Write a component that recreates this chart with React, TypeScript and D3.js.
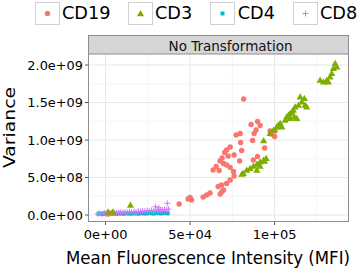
import React from "react";
import * as d3 from "d3";

const W = 358;
const H = 269;

const seriesNames = ["CD19", "CD3", "CD4", "CD8"];
const seriesColors = ["#F8766D", "#7CAE00", "#00BFC4", "#C77CFF"];

const xTicks = [0, 50000, 100000];
const xTickLabels = ["0e+00", "5e+04", "1e+05"];
const xMinor = [25000, 75000, 125000];
const yTicks = [0, 5e8, 1e9, 1.5e9, 2e9];
const yTickLabels = ["0.0e+00", "5.0e+08", "1.0e+09", "1.5e+09", "2.0e+09"];
const yMinor = [2.5e8, 7.5e8, 1.25e9, 1.75e9];

const cd19X = [1500, 3100, 43500, 48800, 50000, 50900, 57700, 59800, 61800, 66600, 67800, 68900, 69800, 68600, 71600, 73700, 76000, 63600, 65400, 67700, 68900, 69800, 71600, 73700, 75700, 76000, 79300, 73700, 71600, 70400, 80500, 77200, 79600, 79900, 87000, 86100, 89900, 91400, 89000, 87900, 97300, 100300, 100000, 97900, 94100, 89900, 81700, 72500, 67200, 87400];
const cd19Y = [1.3e7, 2.3e7, 1.47e8, 2.13e8, 2.33e8, 2.0e8, 2.4e8, 2.67e8, 2.93e8, 3.8e8, 2.8e8, 3.13e8, 3.33e8, 4.0e8, 4.2e8, 4.67e8, 5.2e8, 6.0e8, 6.47e8, 7.2e8, 7.6e8, 6.87e8, 6.67e8, 6.33e8, 5.8e8, 8.0e8, 7.2e8, 9.07e8, 8.67e8, 8.33e8, 8.6e8, 1.067e9, 1.087e9, 9.67e8, 9.93e8, 1.207e9, 1.247e9, 1.193e9, 1.133e9, 1.087e9, 1.12e9, 1.12e9, 1.047e9, 1.08e9, 8.93e8, 7.8e8, 1.547e9, 7.87e8, 5.93e8, 7.33e8];

const cd3X = [1500, 4400, 14700, 80600, 81500, 83500, 85500, 87500, 89500, 91400, 93400, 95000, 89500, 91400, 94000, 93500, 97300, 99300, 101300, 102200, 103300, 104300, 106200, 107200, 108200, 109200, 110200, 111100, 112100, 114100, 116100, 118000, 119000, 115100, 117600, 111700, 113100, 109200, 126900, 128900, 130900, 132800, 131800, 133800, 134800, 135800, 136800];
const cd3Y = [4.4e7, 4.4e7, 1.33e8, 5.47e8, 5.56e8, 6.0e8, 6.23e8, 6.53e8, 6.8e8, 7.1e8, 7.33e8, 7.56e8, 6.0e8, 6.53e8, 7.2e8, 9.93e8, 1.089e9, 1.133e9, 1.177e9, 1.2e9, 1.223e9, 1.177e9, 1.267e9, 1.31e9, 1.333e9, 1.356e9, 1.377e9, 1.4e9, 1.444e9, 1.467e9, 1.51e9, 1.467e9, 1.444e9, 1.577e9, 1.556e9, 1.31e9, 1.289e9, 1.289e9, 1.8e9, 1.777e9, 1.8e9, 1.844e9, 1.777e9, 1.889e9, 1.956e9, 2.023e9, 1.977e9];

const cd4X = [-4200, -3000, -1500, -500, 800, 2200, 3600, 5100, 6300, 7800, 9400, 10600, 12100, 13800, 15200, 16500, 18100, 19700, 21000, 22600, 24100, 25500, 27200, 28600, 30100, 31700, 33200, 34500, 35800, 36800];
const cd4Y = [1.6e7, 1.9e7, 1.4e7, 2.1e7, 1.7e7, 1.5e7, 2.0e7, 1.8e7, 1.6e7, 2.2e7, 1.9e7, 1.7e7, 2.3e7, 2.0e7, 1.8e7, 2.4e7, 2.1e7, 1.9e7, 2.5e7, 2.2e7, 2.0e7, 2.6e7, 2.3e7, 2.1e7, 2.7e7, 2.4e7, 2.2e7, 2.8e7, 2.5e7, 2.3e7];

const cd8X = [-4500, -3500, -2000, -800, 300, 1500, 2600, 3900, 5200, 6400, 7700, 9000, 10200, 11500, 12900, 14100, 15400, 16800, 18000, 19300, 20700, 21900, 23200, 24600, 25800, 27100, 28500, 29700, 31000, 32400, 33600, 34900, 36100, 37200, 29500, 36500, 31500];
const cd8Y = [1.5e7, 2.2e7, 1.8e7, 2.6e7, 1.9e7, 2.8e7, 2.3e7, 3.0e7, 2.5e7, 3.3e7, 2.9e7, 3.6e7, 3.1e7, 3.9e7, 3.4e7, 4.3e7, 3.8e7, 4.6e7, 4.1e7, 5.0e7, 4.5e7, 5.4e7, 4.9e7, 5.8e7, 5.2e7, 6.2e7, 5.6e7, 6.6e7, 6.0e7, 7.0e7, 6.4e7, 7.4e7, 6.8e7, 7.8e7, 1.1e8, 1.56e8, 9.5e7];

const panel = { left: 88, right: 349, top: 54, bottom: 222 };
const stripTop = 35;
const FONT = "DejaVu Sans, sans-serif";

const triPath = d3.symbol(d3.symbolTriangle, 22)() as string;
const sqPath = d3.symbol(d3.symbolSquare, 16)() as string;
const plusPath = "M-3,0H3M0,-3V3";

function Glyph({ kind, color, x, y }: { kind: number; color: string; x: number; y: number }) {
  const t = `translate(${x},${y})`;
  if (kind === 0) return <circle cx={x} cy={y} r={2.7} fill={color} />;
  if (kind === 1) return <path d={triPath} transform={`translate(${x},${y + 0.6})`} fill={color} />;
  if (kind === 2) return <path d={sqPath} transform={t} fill={color} />;
  return <path d={plusPath} transform={t} fill="none" stroke={color} strokeWidth={1} />;
}

export default function App() {
  const x = d3.scaleLinear().domain([-10400, 144000]).range([panel.left, panel.right]);
  const y = d3.scaleLinear().domain([-9.3e7, 2.147e9]).range([panel.bottom, panel.top]);

  const series = [
    { k: 2, xs: cd4X, ys: cd4Y },
    { k: 3, xs: cd8X, ys: cd8Y },
    { k: 0, xs: cd19X, ys: cd19Y },
    { k: 1, xs: cd3X, ys: cd3Y },
  ];

  const legendBoxes = [35, 128, 210, 293];
  const legendTexts = [62, 155, 237.7, 320];

  return (
    <svg width={W} height={H} style={{ position: "absolute", left: 0, top: 0 }} fontFamily={FONT}>
      <rect x={0} y={0} width={W} height={H} fill="#fff" />
      {seriesNames.map((n, i) => (
        <g key={n}>
          <rect x={legendBoxes[i] + 0.5} y={2.5} width={24} height={22} fill="#fff" stroke="#d0d0d0" strokeWidth={1} />
          <Glyph kind={i} color={seriesColors[i]} x={legendBoxes[i] + 12.5} y={13.5} />
          <text x={legendTexts[i]} y={19} fontSize={17.7} fill="#000">{n}</text>
        </g>
      ))}
      <rect x={panel.left + 0.5} y={stripTop + 0.5} width={panel.right - panel.left - 1} height={panel.top - stripTop} fill="#d6d6d6" stroke="#8c8c8c" strokeWidth={1} />
      <text x={230.5} y={50.5} fontSize={13.5} textAnchor="middle" fill="#111">No Transformation</text>
      <rect x={panel.left} y={panel.top} width={panel.right - panel.left} height={panel.bottom - panel.top} fill="#fff" />
      <clipPath id="pc"><rect x={panel.left} y={panel.top} width={panel.right - panel.left} height={panel.bottom - panel.top} /></clipPath>
      <g clipPath="url(#pc)">
        {xMinor.map((v) => (
          <line key={"xm" + v} x1={x(v)} x2={x(v)} y1={panel.top} y2={panel.bottom} stroke="#f2f2f2" strokeWidth={0.8} />
        ))}
        {yMinor.map((v) => (
          <line key={"ym" + v} y1={y(v)} y2={y(v)} x1={panel.left} x2={panel.right} stroke="#f2f2f2" strokeWidth={0.8} />
        ))}
        {xTicks.map((v) => (
          <line key={"xg" + v} x1={x(v)} x2={x(v)} y1={panel.top} y2={panel.bottom} stroke="#e6e6e6" strokeWidth={1} />
        ))}
        {yTicks.map((v) => (
          <line key={"yg" + v} y1={y(v)} y2={y(v)} x1={panel.left} x2={panel.right} stroke="#e6e6e6" strokeWidth={1} />
        ))}
        {series.map((s) =>
          s.xs.map((xv, i) => (
            <Glyph key={s.k + "-" + i} kind={s.k} color={seriesColors[s.k]} x={x(xv)} y={y(s.ys[i])} />
          ))
        )}
      </g>
      <rect x={panel.left + 0.5} y={panel.top} width={panel.right - panel.left - 1} height={panel.bottom - panel.top - 0.5} fill="none" stroke="#8c8c8c" strokeWidth={1} />
      {yTicks.map((v, i) => (
        <g key={"yt" + v}>
          <line x1={panel.left - 3} x2={panel.left} y1={y(v)} y2={y(v)} stroke="#555" strokeWidth={1} />
          <text x={83} y={y(v)} dy="0.36em" fontSize={12.9} textAnchor="end" fill="#000">{yTickLabels[i]}</text>
        </g>
      ))}
      {xTicks.map((v, i) => (
        <g key={"xt" + v}>
          <line y1={panel.bottom} y2={panel.bottom + 3} x1={x(v)} x2={x(v)} stroke="#555" strokeWidth={1} />
          <text x={x(v)} y={239} fontSize={13} textAnchor="middle" fill="#000">{xTickLabels[i]}</text>
        </g>
      ))}
      <text x={208} y={263.5} fontSize={17.4} textAnchor="middle" textLength={284} lengthAdjust="spacingAndGlyphs" fill="#000">
        Mean Fluorescence Intensity (MFI)
      </text>
      <text transform={`translate(14.5,127.5) rotate(-90)`} fontSize={16.5} textAnchor="middle" textLength={81} lengthAdjust="spacingAndGlyphs" fill="#000">
        Variance
      </text>
    </svg>
  );
}
